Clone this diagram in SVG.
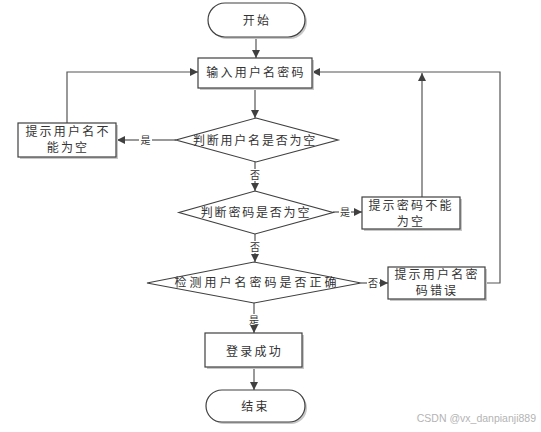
<svg xmlns="http://www.w3.org/2000/svg" width="541" height="432" viewBox="0 0 541 432">
<style>
.box{fill:#fff;stroke:#404040;stroke-width:1.2}
.sh{fill:#c8c8c8;stroke:none}
.t{font-family:"Noto Sans CJK SC","Noto Sans CJK JP",sans-serif;font-size:12px;fill:#333;text-anchor:middle;letter-spacing:2.2px}
.lb{font-family:"Noto Sans CJK SC","Noto Sans CJK JP",sans-serif;font-size:10px;fill:#333;text-anchor:middle}
.ln{fill:none;stroke:#555;stroke-width:1.2}
.ar{marker-end:url(#ah)}
</style>
<defs>
<marker id="ah" markerUnits="userSpaceOnUse" markerWidth="9" markerHeight="9" refX="8" refY="4" orient="auto">
<path d="M0,0 L8,4 L0,8 z" fill="#404040"/>
</marker>
</defs>
<rect width="541" height="432" fill="#fff"/>

<g id="connectors">
<line class="ln ar" x1="256" y1="37" x2="256" y2="58"/>
<line class="ln ar" x1="255" y1="88" x2="255" y2="118"/>
<line class="ln" x1="176" y1="140" x2="152" y2="140"/>
<line class="ln ar" x1="139" y1="140" x2="117" y2="140"/>
<text class="lb" x="145.5" y="143.5">是</text>
<polyline class="ln ar" points="67,123 67,72 198,72"/>
<line class="ln" x1="255" y1="162" x2="255" y2="169"/>
<line class="ln ar" x1="255" y1="181" x2="255" y2="191"/>
<text class="lb" x="255" y="179">否</text>
<line class="ln" x1="333" y1="212" x2="339" y2="212"/>
<line class="ln ar" x1="351" y1="212" x2="362" y2="212"/>
<text class="lb" x="345" y="215.5">是</text>
<line class="ln ar" x1="422" y1="197" x2="422" y2="73"/>
<line class="ln" x1="255" y1="234" x2="255" y2="241"/>
<line class="ln ar" x1="255" y1="253" x2="255" y2="262"/>
<text class="lb" x="255" y="251">否</text>
<line class="ln" x1="361" y1="283" x2="367" y2="283"/>
<line class="ln ar" x1="379" y1="283" x2="388" y2="283"/>
<text class="lb" x="373" y="286.5">否</text>
<polyline class="ln ar" points="485,283 500,283 500,72 312,72"/>
<line class="ln" x1="254" y1="303" x2="254" y2="314"/>
<line class="ln ar" x1="254" y1="326" x2="254" y2="333"/>
<text class="lb" x="254" y="324">是</text>
<line class="ln ar" x1="254" y1="367" x2="254" y2="390"/>
</g>

<g id="start">
<rect class="sh" x="210" y="5" width="97" height="34" rx="17"/>
<rect class="box" x="208" y="3" width="97" height="34" rx="17"/>
<text class="t" x="257" y="24.5">开始</text>
</g>

<g id="input">
<rect class="sh" x="200" y="60" width="114" height="30"/>
<rect class="box" x="198" y="58" width="114" height="30"/>
<text class="t" x="256" y="76.5">输入用户名密码</text>
</g>

<g id="check-user">
<polygon class="box" points="256,118 338,140 256,162 176,140"/>
<text class="t" x="255" y="144.5" style="letter-spacing:1.8px">判断用户名是否为空</text>
</g>

<g id="user-empty">
<rect class="sh" x="20" y="125" width="98" height="34"/>
<rect class="box" x="18" y="123" width="98" height="34"/>
<text class="t" x="68" y="136">提示用户名不</text>
<text class="t" x="68" y="152">能为空</text>
</g>

<g id="check-pwd">
<polygon class="box" points="255,191 333,212.5 255,234 179,212.5"/>
<text class="t" x="256" y="216.5" style="letter-spacing:1.8px">判断密码是否为空</text>
</g>

<g id="pwd-empty">
<rect class="sh" x="364" y="199" width="98" height="32"/>
<rect class="box" x="362" y="197" width="98" height="32"/>
<text class="t" x="411" y="209.5">提示密码不能</text>
<text class="t" x="411" y="226">为空</text>
</g>

<g id="verify">
<polygon class="box" points="254,262 361,283 254,303 147,283"/>
<text class="t" x="257" y="287" style="letter-spacing:3px">检测用户名密码是否正确</text>
</g>

<g id="wrong">
<rect class="sh" x="390" y="269" width="97" height="32"/>
<rect class="box" x="388" y="267" width="97" height="32"/>
<text class="t" x="437" y="278.5">提示用户名密</text>
<text class="t" x="437" y="294.5">码错误</text>
</g>

<g id="success">
<rect class="sh" x="207" y="335" width="97" height="34"/>
<rect class="box" x="205" y="333" width="97" height="34"/>
<text class="t" x="254.5" y="355.5">登录成功</text>
</g>

<g id="end">
<rect class="sh" x="208" y="392" width="99" height="32" rx="16"/>
<rect class="box" x="206" y="390" width="99" height="32" rx="16"/>
<text class="t" x="255.5" y="411">结束</text>
</g>

<text x="536" y="422" style="font-family:'Liberation Sans',Arial,sans-serif;font-size:10.5px;fill:#b4b4b4;text-anchor:end">CSDN @vx_danpianji889</text>
</svg>
